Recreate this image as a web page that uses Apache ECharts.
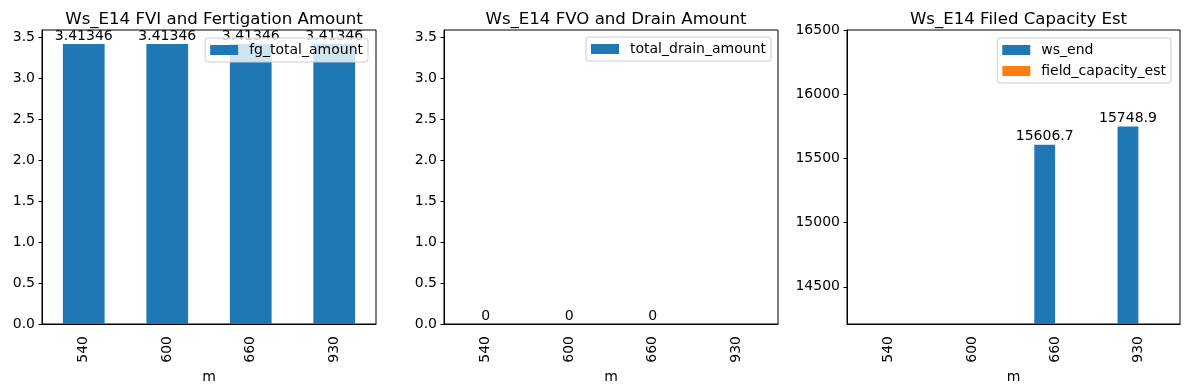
<!DOCTYPE html>
<html><head><meta charset="utf-8">
<script src="https://cdn.jsdelivr.net/npm/echarts@6/dist/echarts.min.js"></script>
<style>html,body{margin:0;padding:0;background:#fff}#c{width:1189px;height:390px}</style>
</head><body><div id="c"></div>
<script>
const categories = ['540','600','660','930'];
const fgTotalAmount = [3.41346, 3.41346, 3.41346, 3.41346];
const totalDrainAmount = [0, 0, 0, null];
const wsEnd = [null, null, 15606.7, 15748.9];
const fieldCapacityEst = [null, null, null, null];
const titles = ['Ws_E14 FVI and Fertigation Amount','Ws_E14 FVO and Drain Amount','Ws_E14 Filed Capacity Est'];
const ticks12 = [0, 0.5, 1.0, 1.5, 2.0, 2.5, 3.0, 3.5];
const ticks3 = [14500, 15000, 15500, 16000, 16500];

const FONT = 'DejaVu Sans';
const BLUE = '#1f77b4', ORANGE = '#ff7f0e';
const grids = [
  {left: 42, top: 30, width: 334, height: 294},
  {left: 444, top: 30, width: 334, height: 294},
  {left: 847, top: 30, width: 333, height: 294}
];
const chart = echarts.init(document.getElementById('c'), null, {renderer: 'canvas'});

function xAxis(i) {
  return {
    type: 'category', gridIndex: i, data: categories,
    name: 'm', nameLocation: 'middle', nameGap: 39,
    nameTextStyle: {fontFamily: FONT, fontSize: 14, color: '#000'},
    axisLine: {lineStyle: {color: '#000', width: 1}},
    axisTick: {alignWithLabel: true, length: 3.5, lineStyle: {color: '#000'}},
    axisLabel: {rotate: 90, margin: 12, fontFamily: FONT, fontSize: 14, color: '#000'},
    splitLine: {show: false}
  };
}
function yAxis(i, min, max, ticks, fmt) {
  return {
    type: 'value', gridIndex: i, min: min, max: max,
    axisLine: {show: true, lineStyle: {color: '#000', width: 1}},
    axisTick: {show: true, length: 3.5, lineStyle: {color: '#000'}, customValues: ticks},
    axisLabel: {margin: 7, fontFamily: FONT, fontSize: 14, color: '#000', customValues: ticks, formatter: fmt},
    splitLine: {show: false}
  };
}
const labelStyle = {show: true, position: 'top', distance: 1, fontFamily: FONT, fontSize: 14, color: '#000',
  formatter: p => (p.value === null || p.value === undefined) ? '' : String(p.value)};

function legend(names, right, top, colors) {
  return {
    data: names.map((n, k) => ({name: n, itemStyle: {color: colors[k]}})),
    orient: 'vertical', right: right, top: top,
    itemWidth: 28, itemHeight: 10, itemGap: 7,
    icon: 'rect',
    backgroundColor: 'rgba(255,255,255,0.8)', borderColor: '#cccccc', borderWidth: 1, borderRadius: 3,
    padding: [5, 5, 5, 5],
    textStyle: {fontFamily: FONT, fontSize: 14, color: '#000', padding: [0, 0, 0, 6]},
    selectedMode: false, z: 10
  };
}

const option = {
  animation: false,
  title: titles.map((t, i) => ({
    text: t, left: grids[i].left + grids[i].width / 2, top: 6, textAlign: 'center',
    textStyle: {fontFamily: FONT, fontSize: 16.6, fontWeight: 'normal', color: '#000'}
  })),
  grid: grids.map(g => Object.assign({show: true, borderColor: '#000', borderWidth: 1, backgroundColor: 'transparent', containLabel: false}, g)),
  xAxis: [xAxis(0), xAxis(1), xAxis(2)],
  yAxis: [
    yAxis(0, 0, 3.5841, ticks12, v => v.toFixed(1)),
    yAxis(1, 0, 3.5841, ticks12, v => v.toFixed(1)),
    yAxis(2, 14210, 16500, ticks3, v => String(v))
  ],
  legend: [
    legend(['fg_total_amount'], 1189 - 368, 38, [BLUE]),
    legend(['total_drain_amount'], 1189 - 771, 37, [BLUE]),
    legend(['ws_end', 'field_capacity_est'], 1189 - 1171, 38, [BLUE, ORANGE])
  ],
  series: [
    {name: 'fg_total_amount', type: 'bar', xAxisIndex: 0, yAxisIndex: 0, data: fgTotalAmount,
      barWidth: '50%', itemStyle: {color: BLUE}, label: labelStyle},
    {name: 'total_drain_amount', type: 'bar', xAxisIndex: 1, yAxisIndex: 1, data: totalDrainAmount,
      barWidth: '50%', itemStyle: {color: BLUE}, label: labelStyle},
    {name: 'ws_end', type: 'bar', xAxisIndex: 2, yAxisIndex: 2, data: wsEnd,
      barWidth: '25%', barGap: '0%', itemStyle: {color: BLUE}, label: labelStyle},
    {name: 'field_capacity_est', type: 'bar', xAxisIndex: 2, yAxisIndex: 2, data: fieldCapacityEst,
      barWidth: '25%', barGap: '0%', itemStyle: {color: ORANGE}, label: labelStyle}
  ]
};
chart.setOption(option);
</script></body></html>
